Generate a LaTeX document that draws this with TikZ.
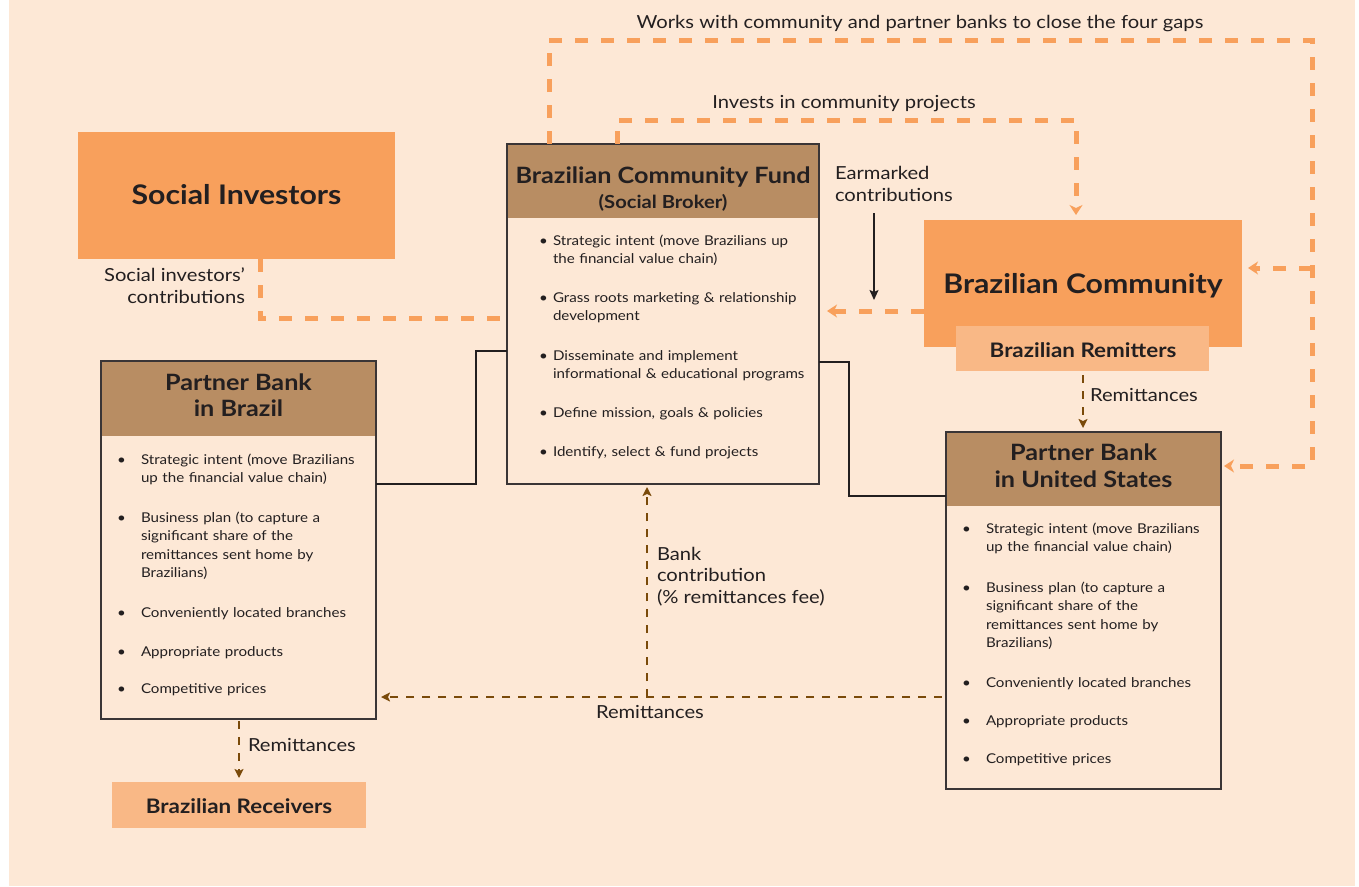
\documentclass[tikz,border=0pt]{standalone}
\usepackage{fontspec}
\setmainfont{Lato}[FakeStretch=1.12]
\usetikzlibrary{arrows.meta}
\definecolor{bg}{HTML}{FDE8D6}
\definecolor{orng}{HTML}{F8A05C}
\definecolor{lorng}{HTML}{F9B886}
\definecolor{hdr}{HTML}{B88D63}
\definecolor{brn}{HTML}{7A4A0A}
\definecolor{ink}{HTML}{231F20}
\definecolor{frm}{HTML}{3A3536}
\newcommand\fHuge{\fontsize{27}{30}\selectfont\bfseries}
\newcommand\fTitle{\fontsize{22.5}{26}\selectfont\bfseries}
\newcommand\fSub{\fontsize{18}{22}\selectfont\bfseries}
\newcommand\fLab{\fontsize{18}{21.5}\selectfont}
\newcommand\fBody{\fontsize{13.5}{18.5}\selectfont}
\newcommand\fSmallBold{\fontsize{20}{22}\selectfont\bfseries}
\tikzset{
  every node/.style={text=ink, inner sep=0pt, outer sep=0pt},
  panel/.style={draw=frm, line width=1.2pt, fill=bg, anchor=north west},
  hdrbox/.style={fill=hdr, anchor=north west},
  obox/.style={fill=orng, anchor=north west},
  lbox/.style={fill=lorng, anchor=north west},
  odash/.style={draw=orng, line width=5pt, dash pattern=on 13pt off 13pt},
  otip/.style={-{Stealth[length=10pt,width=13pt,inset=3pt]}},
  bdash/.style={draw=brn, line width=2.5pt, dash pattern=on 8pt off 8pt},
  btip/.style={-{Stealth[length=9pt,width=9pt,inset=2pt]}},
  solidk/.style={draw=ink, line width=2pt},
  titem/.style={anchor=base west, align=left, font=\fBody},
  bdot/.style={anchor=base west, font=\fBody},
  lab/.style={font=\fLab, align=left},
}
\begin{document}
\begin{tikzpicture}[x=1pt,y=-1pt]
\useasboundingbox (0,0) rectangle (1359,886);
\fill[bg] (9,0) rectangle (1355,886);

% ---------- Social Investors
\node[obox, minimum width=317pt, minimum height=127pt] (si) at (78,132) {};
\node[font=\fHuge, anchor=base] (sit) at (236.5,204) {Social Investors};
\node[lab, anchor=base east, align=right] (silab) at (245,303) {Social investors'\\contributions};

% ---------- Brazilian Community Fund
\node[panel, minimum width=312pt, minimum height=340pt] (bcf) at (507,144) {};
\node[hdrbox, minimum width=312pt, minimum height=74pt] (bcfh) at (507,144) {};
\draw[draw=frm, line width=1.2pt] (bcf.north west) rectangle (bcf.south east);
\node[font=\fTitle, anchor=base] (bcft) at (663,183) {Brazilian Community Fund};
\node[font=\fSub, anchor=base] (bcfs) at (663,208) {(Social Broker)};
\node[bdot] (bcfd1) at (539,245) {\textbullet};
\node[titem, text width=262pt] (bcfi1) at (553,245) {Strategic intent (move Brazilians up\\the financial value chain)};
\node[bdot] (bcfd2) at (539,302) {\textbullet};
\node[titem, text width=262pt] (bcfi2) at (553,302) {Grass roots marketing \& relationship\\development};
\node[bdot] (bcfd3) at (539,360) {\textbullet};
\node[titem, text width=262pt] (bcfi3) at (553,360) {Disseminate and implement\\informational \& educational programs};
\node[bdot] (bcfd4) at (539,417) {\textbullet};
\node[titem, text width=262pt] (bcfi4) at (553,417) {Define mission, goals \& policies};
\node[bdot] (bcfd5) at (539,456) {\textbullet};
\node[titem, text width=262pt] (bcfi5) at (553,456) {Identify, select \& fund projects};

% ---------- Brazilian Community
\node[obox, minimum width=318pt, minimum height=127pt] (bc) at (924,220) {};
\node[lbox, minimum width=253pt, minimum height=45pt] (brem) at (956,326) {};
\node[font=\fHuge, anchor=base] (bct) at (1083,293) {Brazilian Community};
\node[font=\fSmallBold, anchor=base] (bremt) at (1083,357) {Brazilian Remitters};
\node[lab, anchor=base west] (emlab) at (835,201) {Earmarked\\contributions};

% ---------- Partner Bank in Brazil
\node[panel, minimum width=275pt, minimum height=358pt] (pbb) at (101,361) {};
\node[hdrbox, minimum width=275pt, minimum height=75pt] (pbbh) at (101,361) {};
\draw[draw=frm, line width=1.2pt] (pbb.north west) rectangle (pbb.south east);
\node[font=\fTitle, anchor=base] (pbbt1) at (238.5,390) {Partner Bank};
\node[font=\fTitle, anchor=base] (pbbt2) at (238.5,416) {in Brazil};
\node[bdot] (pbbd1) at (117,464) {\textbullet};
\node[titem, text width=230pt] (pbbi1) at (141,464) {Strategic intent (move Brazilians\\up the financial value chain)};
\node[bdot] (pbbd2) at (117,522) {\textbullet};
\node[titem, text width=230pt] (pbbi2) at (141,522) {Business plan (to capture a\\significant share of the\\remittances sent home by\\Brazilians)};
\node[bdot] (pbbd3) at (117,617) {\textbullet};
\node[titem, text width=230pt] (pbbi3) at (141,617) {Conveniently located branches};
\node[bdot] (pbbd4) at (117,656) {\textbullet};
\node[titem, text width=230pt] (pbbi4) at (141,656) {Appropriate products};
\node[bdot] (pbbd5) at (117,693) {\textbullet};
\node[titem, text width=230pt] (pbbi5) at (141,693) {Competitive prices};

% ---------- Partner Bank in United States
\node[panel, minimum width=275pt, minimum height=357pt] (pbus) at (946,432) {};
\node[hdrbox, minimum width=275pt, minimum height=74pt] (pbush) at (946,432) {};
\draw[draw=frm, line width=1.2pt] (pbus.north west) rectangle (pbus.south east);
\node[font=\fTitle, anchor=base] (pbust1) at (1083.5,460) {Partner Bank};
\node[font=\fTitle, anchor=base] (pbust2) at (1083.5,487) {in United States};
\node[bdot] (pbusd1) at (962,533) {\textbullet};
\node[titem, text width=230pt] (pbusi1) at (986,533) {Strategic intent (move Brazilians\\up the financial value chain)};
\node[bdot] (pbusd2) at (962,592) {\textbullet};
\node[titem, text width=230pt] (pbusi2) at (986,592) {Business plan (to capture a\\significant share of the\\remittances sent home by\\Brazilians)};
\node[bdot] (pbusd3) at (962,687) {\textbullet};
\node[titem, text width=230pt] (pbusi3) at (986,687) {Conveniently located branches};
\node[bdot] (pbusd4) at (962,725) {\textbullet};
\node[titem, text width=230pt] (pbusi4) at (986,725) {Appropriate products};
\node[bdot] (pbusd5) at (962,763) {\textbullet};
\node[titem, text width=230pt] (pbusi5) at (986,763) {Competitive prices};

% ---------- Brazilian Receivers
\node[lbox, minimum width=254pt, minimum height=46pt] (recv) at (112,782) {};
\node[font=\fSmallBold, anchor=base] (recvt) at (239,813) {Brazilian Receivers};

% ---------- labels
\node[lab, anchor=base] (works) at (920,28) {Works with community and partner banks to close the four gaps};
\node[lab, anchor=base] (invl) at (844,108) {Invests in community projects};
\node[lab, anchor=base west] (remlab1) at (1090,401) {Remittances};
\node[lab, anchor=base west] (remlab2) at (596,718) {Remittances};
\node[lab, anchor=base west] (remlab3) at (248,751) {Remittances};
\node[lab, anchor=base west] (banklab) at (657,603) {Bank\\contribution\\(\% remittances fee)};

% ---------- coordinates
\coordinate (sa) at (260,318);
\coordinate (k1) at (476,484);
\coordinate (k2) at (476,351);
\coordinate (k3) at (849,362);
\coordinate (k4) at (849,496);
\coordinate (t1) at (549,40);
\coordinate (t2) at (1312,40);
\coordinate (t3) at (1312,466);
\coordinate (t4) at (1312,268);
\coordinate (i1) at (617,120);
\coordinate (i2) at (1076,120);
\coordinate (e1) at (874,213);
\coordinate (e2) at (874,300);
\coordinate (c1) at (924,311);
\coordinate (r1) at (1083,371);
\coordinate (h1) at (942,697);
\coordinate (v1) at (647,697);
\coordinate (r2) at (239,719);

% ---------- connectors
\draw[odash] (si.south -| sa) -- (sa) -- (bcf.west |- sa);
\draw[solidk] (pbb.east |- k1) -- (k1) -- (k2) -- (bcf.west |- k2);
\draw[solidk] (bcf.east |- k3) -- (k3) -- (k4) -- (pbus.west |- k4);
\draw[odash, otip, shorten >=3pt] (bcf.north -| t1) -- (t1) -- (t2) -- (t3) -- (pbus.east |- t3);
\draw[odash, otip, shorten >=6pt] (t4) -- (bc.east |- t4);
\draw[odash, otip, shorten >=5pt] (bcf.north -| i1) -- (i1) -- (i2) -- (bc.north -| i2);
\draw[draw=ink, line width=1.5pt, -{Stealth[length=10pt,width=9pt,inset=2pt]}] (e1) -- (e2);
\draw[odash, otip, shorten >=8pt] (bc.west |- c1) -- (bcf.east |- c1);
\draw[bdash, btip, shorten <=4pt, shorten >=4pt] (brem.south -| r1) -- (pbus.north -| r1);
\draw[bdash, btip, shorten >=5pt] (h1) -- (pbb.east |- h1);
\draw[bdash, btip, shorten >=3pt] (v1) -- (bcf.south -| v1);
\draw[bdash, btip, shorten <=2pt, shorten >=4pt] (pbb.south -| r2) -- (recv.north -| r2);
\end{tikzpicture}
\end{document}
